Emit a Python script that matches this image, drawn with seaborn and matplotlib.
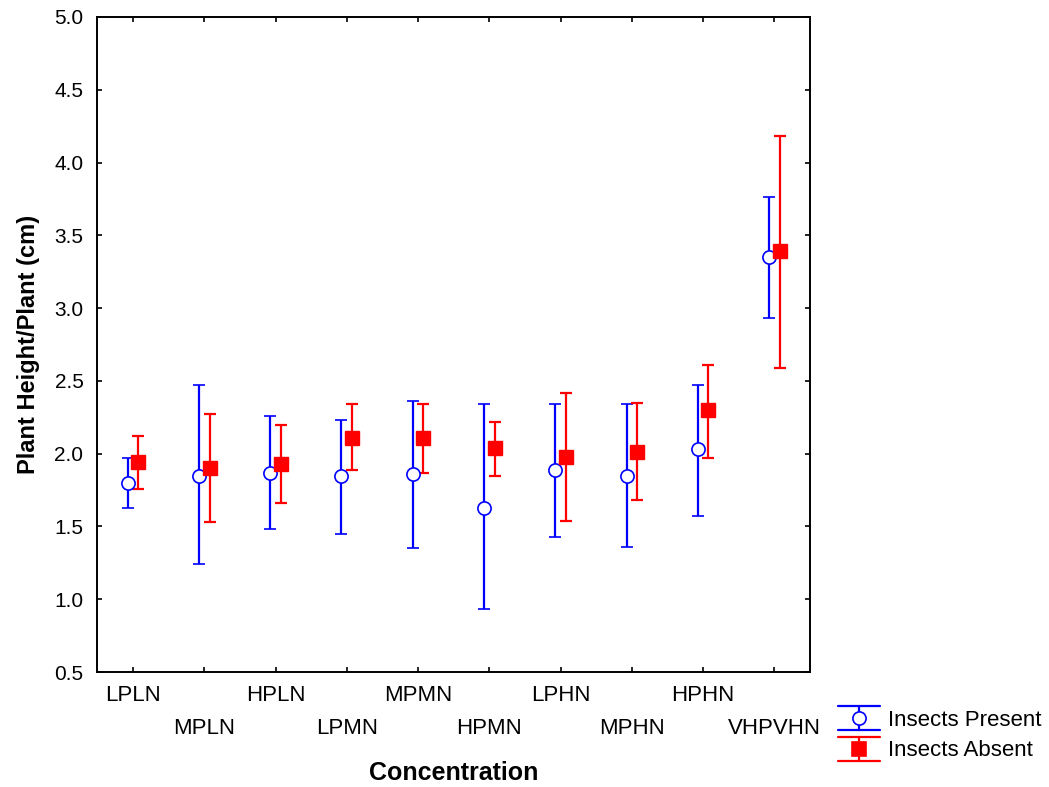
import matplotlib
matplotlib.use("Agg")
import matplotlib.pyplot as plt
from matplotlib.legend_handler import HandlerBase
from matplotlib.lines import Line2D
import seaborn as sns
import numpy as np
import pandas as pd

# -------------------------
# DATA
# -------------------------
categories = ["LPLN", "MPLN", "HPLN", "LPMN", "MPMN",
              "HPMN", "LPHN", "MPHN", "HPHN", "VHPVHN"]

present_mean = [1.80, 1.85, 1.87, 1.85, 1.86, 1.63, 1.89, 1.85, 2.03, 3.35]
present_low = [1.63, 1.24, 1.48, 1.45, 1.35, 0.93, 1.43, 1.36, 1.57, 2.93]
present_high = [1.97, 2.47, 2.26, 2.23, 2.36, 2.34, 2.34, 2.34, 2.47, 3.76]

absent_mean = [1.94, 1.90, 1.93, 2.11, 2.11, 2.04, 1.98, 2.01, 2.30, 3.39]
absent_low = [1.76, 1.53, 1.66, 1.89, 1.87, 1.85, 1.54, 1.68, 1.97, 2.59]
absent_high = [2.12, 2.27, 2.20, 2.34, 2.34, 2.22, 2.42, 2.35, 2.61, 4.18]

df = pd.DataFrame({
    "concentration": categories,
    "present": present_mean, "present_lo": present_low, "present_hi": present_high,
    "absent": absent_mean, "absent_lo": absent_low, "absent_hi": absent_high,
})


# legend key: vertical bar with wide caps spanning the handle
class WideCapHandler(HandlerBase):
    def __init__(self, color, marker, face):
        super().__init__()
        self.color = color
        self.marker = marker
        self.face = face

    def create_artists(self, legend, orig_handle, xdescent, ydescent,
                       width, height, fontsize, trans):
        cx = width / 2 - xdescent
        cy = height / 2 - ydescent
        half = 8.6
        top = Line2D([-xdescent, width - xdescent], [cy + half, cy + half],
                     color=self.color, lw=1.6)
        bot = Line2D([-xdescent, width - xdescent], [cy - half, cy - half],
                     color=self.color, lw=1.6)
        vert = Line2D([cx, cx], [cy - half, cy + half], color=self.color, lw=1.6)
        mark = Line2D([cx], [cy], marker=self.marker, markersize=9.5,
                      markerfacecolor=self.face, markeredgecolor=self.color,
                      markeredgewidth=1.2, linestyle="none")
        arts = [top, bot, vert, mark]
        for a in arts:
            a.set_transform(trans)
        return arts


# -------------------------
# STYLE
# -------------------------
sns.set_style("ticks")
plt.rcParams["font.family"] = ["Liberation Sans", "DejaVu Sans"]
plt.rcParams["text.color"] = "black"
plt.rcParams["axes.labelcolor"] = "black"
plt.rcParams["xtick.color"] = "black"
plt.rcParams["ytick.color"] = "black"

fig = plt.figure(figsize=(10.49, 7.87), dpi=100)
ax = fig.add_axes([0.0928, 0.1461, 0.6794, 0.8323])

pos = np.arange(len(categories))
offset = 0.075

# Insects Present: open blue circles
err_p = [df["present"] - df["present_lo"], df["present_hi"] - df["present"]]
h_p = ax.errorbar(pos - offset, df["present"], yerr=err_p, fmt="o",
                  color="#0000ff", ecolor="#0000ff", elinewidth=1.6,
                  capsize=4.3, capthick=1.6, markersize=9.5,
                  markerfacecolor="white", markeredgecolor="#0000ff",
                  markeredgewidth=1.2, label="Insects Present", zorder=3)

# Insects Absent: filled red squares
err_a = [df["absent"] - df["absent_lo"], df["absent_hi"] - df["absent"]]
h_a = ax.errorbar(pos + offset, df["absent"], yerr=err_a, fmt="s",
                  color="#ff0000", ecolor="#ff0000", elinewidth=1.6,
                  capsize=4.3, capthick=1.6, markersize=9.5,
                  markerfacecolor="#ff0000", markeredgecolor="#ff0000",
                  label="Insects Absent", zorder=3)

# -------------------------
# AXES
# -------------------------
ax.set_xlim(-0.5, len(categories) - 0.5)
ax.set_ylim(0.5, 5.0)
yt = np.arange(0.5, 5.01, 0.5)
ax.set_yticks(yt)
ax.set_yticklabels([f"{v:.1f}" for v in yt])

# alternate tick labels on two rows
ax.set_xticks(pos[::2])
ax.set_xticklabels(categories[::2])
ax.set_xticks(pos[1::2], minor=True)
ax.set_xticklabels(categories[1::2], minor=True)

ax.tick_params(axis="both", which="both", direction="in", length=3.6,
               width=1.2, top=True, right=True, labelsize=15, color="black")
ax.tick_params(axis="x", which="both", labelsize=16)
ax.tick_params(axis="x", which="major", pad=9)
ax.tick_params(axis="x", which="minor", pad=33)
ax.tick_params(axis="y", pad=10)

for s in ax.spines.values():
    s.set_linewidth(1.4)
    s.set_color("black")

ax.set_xlabel("Concentration", fontsize=18, fontweight="bold", labelpad=16)
ax.set_ylabel("Plant Height/Plant (cm)", fontsize=17, fontweight="bold", labelpad=10)

fig.legend(handles=[h_p, h_a], labels=["Insects Present", "Insects Absent"],
           handler_map={h_p: WideCapHandler("#0000ff", "o", "white"),
                        h_a: WideCapHandler("#ff0000", "s", "#ff0000")},
           loc="upper left", bbox_to_anchor=(838 / 1049, 1 - 710 / 787),
           frameon=False, fontsize=16, handlelength=1.9, handletextpad=0.36,
           labelspacing=0.42, borderpad=0, borderaxespad=0)

fig.savefig("out.png", dpi=100)
